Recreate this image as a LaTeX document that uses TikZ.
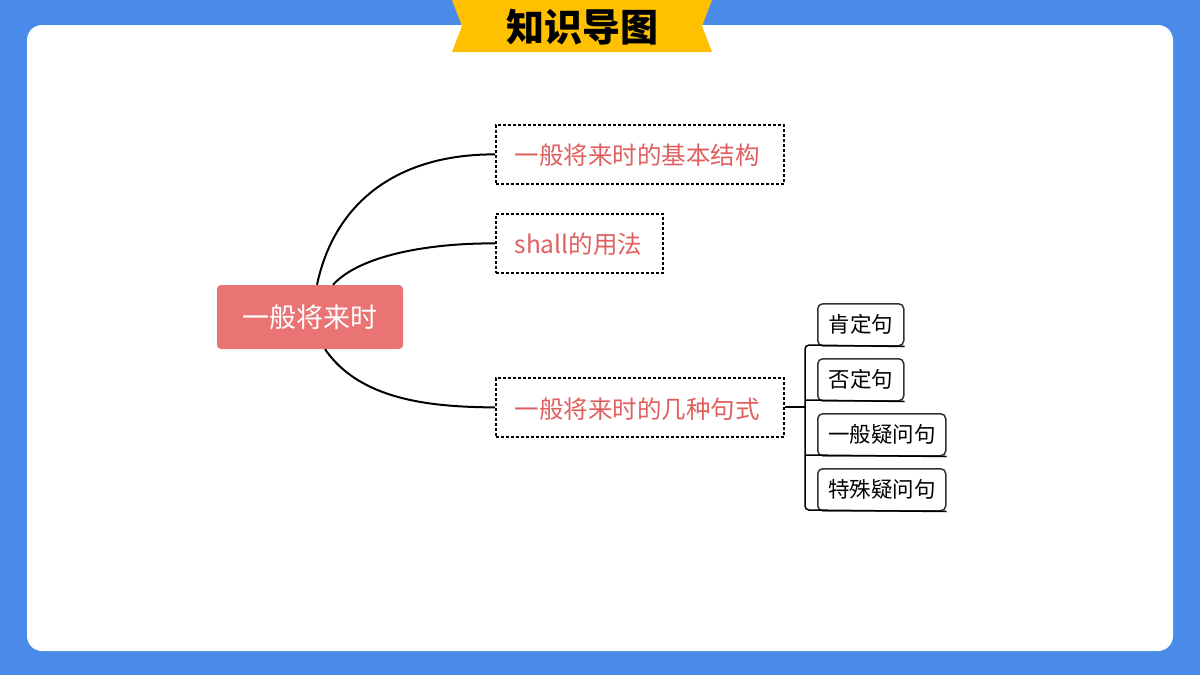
\documentclass[tikz,border=0pt]{standalone}
\usepackage{fontspec}
\newfontfamily\cjk{Noto Sans CJK SC}
\begin{document}
\begin{tikzpicture}[x=1pt,y=-1pt,
  dbox/.style={draw=black,dashed,dash pattern=on 3pt off 2pt,line width=1.8pt,anchor=north west,inner sep=0pt},
  dtxt/.style={text=txt,font=\cjk\fontsize{24.5}{28}\selectfont,anchor=west},
  sbox/.style={draw=black!80,rounded corners=5pt,line width=1.5pt,font=\cjk\fontsize{21.5}{24}\selectfont,inner sep=0pt},
  conn/.style={line width=2pt}]
\definecolor{bg}{HTML}{4A8BEA}
\definecolor{ban}{HTML}{FFC000}
\definecolor{ctr}{HTML}{EA7474}
\definecolor{txt}{HTML}{E06060}
\useasboundingbox (0,0) rectangle (1200,675);
\fill[bg] (0,0) rectangle (1200,675);
\fill[white,rounded corners=15pt] (27,25) rectangle (1173,651);
\fill[ban] (452,0) -- (712,0) -- (702,26) -- (712,52) -- (452,52) -- (462,26) -- cycle;
\node[font=\cjk\bfseries\fontsize{38}{42}\selectfont] (title) at (582,27) {知识导图};
\node[fill=ctr,rounded corners=4pt,minimum width=186,minimum height=64,text=white,font=\cjk\fontsize{27}{30}\selectfont] (c) at (310,317) {一般将来时};
\node[dbox,minimum width=288,minimum height=59] (b1) at (495,124) {};
\node[dtxt] at (511,155) {一般将来时的基本结构};
\node[dbox,minimum width=167,minimum height=59] (b2) at (495,213) {};
\node[dtxt] at (511,244) {shall的用法};
\node[dbox,minimum width=288,minimum height=59] (b3) at (495,377) {};
\node[dtxt] at (511,409) {一般将来时的几种句式};
\draw[conn] ([xshift=7pt]c.north) .. controls (335,200) and (400,154) .. (b1.west);
\draw[conn] ([xshift=23pt]c.north) .. controls (360,255) and (430,243) .. (b2.west);
\draw[conn] ([xshift=15pt]c.south) .. controls (360,400) and (430,407) .. (b3.west);
\node[sbox,minimum width=86,minimum height=42,anchor=north west] (s1) at (817,303) {肯定句};
\node[sbox,minimum width=86,minimum height=42,anchor=north west] (s2) at (817,358) {否定句};
\node[sbox,minimum width=128,minimum height=42,anchor=north west] (s3) at (817,413) {一般疑问句};
\node[sbox,minimum width=128,minimum height=42,anchor=north west] (s4) at (817,468) {特殊疑问句};
\coordinate (j) at (805,407);
\draw[line width=1.5pt] (b3.east |- j) -- (j);
\draw[line width=1.5pt,rounded corners=4pt] (s1.south east) -- (805,345) -- (805,510) -- (s4.south east);
\draw[line width=1.5pt] (805,400) -- (s2.south east);
\draw[line width=1.5pt] (805,455) -- (s3.south east);
\end{tikzpicture}
\end{document}
